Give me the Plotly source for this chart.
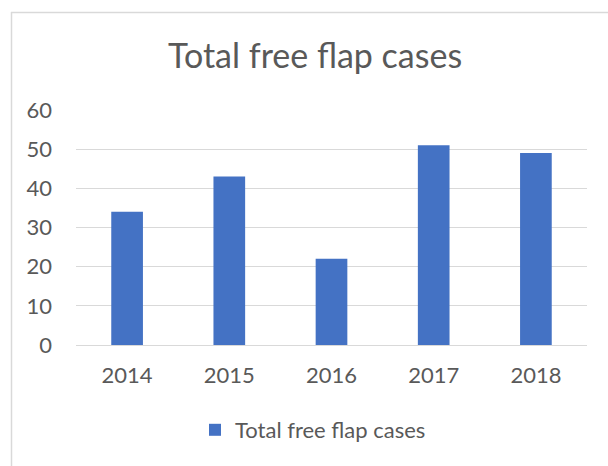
import plotly.graph_objects as go

years = ["2014", "2015", "2016", "2017", "2018"]
cases = [34, 43, 22, 51, 49]
series_name = "Total free flap cases"
title_text = "Total free flap cases"

W, H = 608, 466
L, R, T, B = 76, 21, 110, 121
pw, ph = W - L - R, H - T - B

def px(x):
    return (x - L) / pw

def py(y):
    return (H - B - y) / ph

fig = go.Figure()
fig.add_trace(go.Bar(x=years, y=cases, name=series_name,
                     marker=dict(color="#4472C4", line=dict(width=0)),
                     showlegend=True))

border = dict(color="#d9d9d9", width=1.5)
fig.update_layout(
    width=W, height=H,
    margin=dict(l=L, r=R, t=T, b=B),
    paper_bgcolor="white", plot_bgcolor="white",
    font=dict(family="Lato", color="#595959"),
    bargap=0.69,
    showlegend=True,
    legend=dict(orientation="h", x=px(313), xanchor="center", y=py(430), yanchor="middle",
                font=dict(size=22, color="#595959"), itemwidth=30,
                bgcolor="rgba(0,0,0,0)"),
    xaxis=dict(showgrid=False, showline=False, zeroline=False, ticks="",
               tickfont=dict(size=22, color="#595959"), ticklabelstandoff=15),
    yaxis=dict(range=[0, 60], dtick=10, showgrid=True, gridcolor="#d9d9d9", gridwidth=1,
               zeroline=True, zerolinecolor="#d9d9d9", zerolinewidth=1, showline=False,
               ticks="", tickfont=dict(size=22, color="#595959"), ticklabelstandoff=23),
    annotations=[dict(text=title_text, xref="paper", yref="paper", x=px(315), y=py(54),
                      xanchor="center", yanchor="middle", showarrow=False,
                      font=dict(size=34, color="#595959", family="Lato"))],
    shapes=[
        dict(type="line", xref="paper", yref="paper",
             x0=px(11), x1=px(608), y0=py(12.5), y1=py(12.5), line=border, layer="below"),
        dict(type="line", xref="paper", yref="paper",
             x0=px(11.5), x1=px(11.5), y0=py(12), y1=py(466), line=border, layer="below"),
    ],
)

fig.write_html("out.html", config={"displayModeBar": False},
               post_script="document.documentElement.style.overflow='hidden';document.body.style.margin='0';document.body.style.overflow='hidden';")
